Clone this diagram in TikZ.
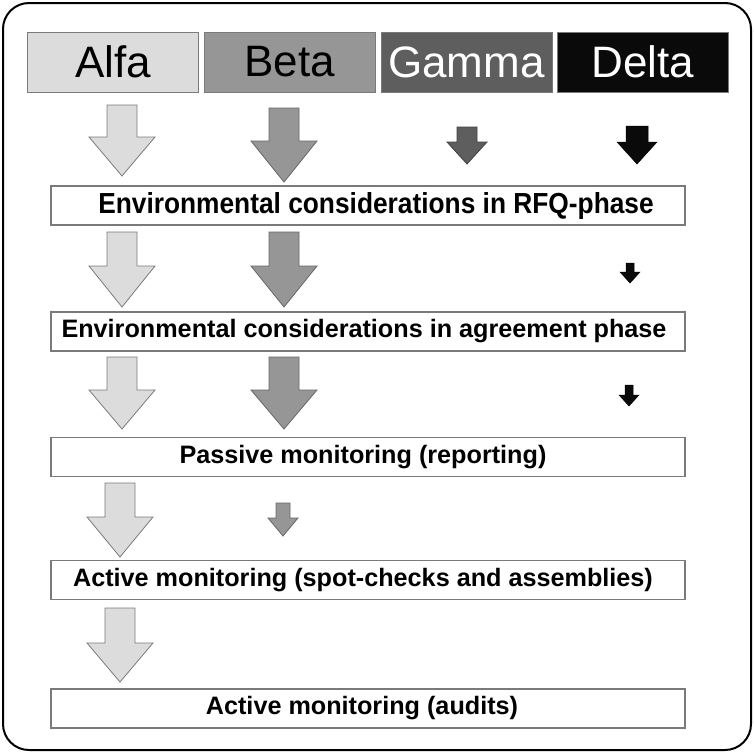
\documentclass[tikz,border=0pt]{standalone}
\usepackage{fontspec}
\setmainfont{Liberation Sans}
\usepackage{tikz}
\usetikzlibrary{positioning}

\definecolor{alfagray}{HTML}{DCDCDC}
\definecolor{betagray}{HTML}{969696}
\definecolor{gammagray}{HTML}{5E5E5E}
\definecolor{deltablack}{HTML}{0A0A0A}
\definecolor{edgegray}{HTML}{7A7A7A}

\tikzset{
  header/.style={draw=edgegray, line width=0.8pt, minimum width=171, minimum height=60,
                 inner sep=0pt, font=\fontsize{44}{48}\selectfont},
  stage/.style={draw=edgegray, line width=1.2pt, fill=white, minimum width=634, minimum height=39,
                inner sep=0pt, font=\fontsize{25.2}{28}\selectfont\bfseries},
  alfaarrow/.style={fill=alfagray, draw=edgegray, line width=0.8pt, line join=miter},
  betaarrow/.style={fill=betagray, draw=black!60, line width=0.8pt, line join=miter},
  gammaarrow/.style={fill=gammagray, draw=black!75, line width=0.8pt, line join=miter},
  deltaarrow/.style={fill=deltablack, draw=black, line width=0.5pt, line join=miter}
}

% block arrow: style, x, top, head base, tip, shaft half width, head half width
\newcommand{\dnarrow}[7]{%
  \filldraw[#1] (#2-#6,#3) -- (#2+#6,#3) -- (#2+#6,#4) -- (#2+#7,#4) -- (#2,#5)
    -- (#2-#7,#4) -- (#2-#6,#4) -- cycle;}

\begin{document}
\begin{tikzpicture}[x=1pt, y=-1pt]
  \useasboundingbox (0,0) rectangle (754,753);

  % Outer frame
  \draw[line width=2pt, rounded corners=26pt] (3,3) rectangle (751,750);

  % Supplier headers
  \node[header, fill=alfagray] (alfa) at (113,62) {Alfa};
  \node[header, fill=betagray] (beta) at (289.5,62) {Beta};
  \node[header, fill=gammagray, text=white] (gamma) at (466.5,62) {Gamma};
  \node[header, fill=deltablack, text=white] (delta) at (643,62) {Delta};

  % Stages
  \node[stage, font=\fontsize{29}{32}\selectfont\bfseries] (rfq) at (368,205.5)
    {\hspace*{16pt}\scalebox{0.907}[1]{Environmental considerations in RFQ-phase}};
  \node[stage] (agree) at (368,331.5) {\hspace*{-8pt}Environmental considerations in agreement phase};
  \node[stage] (passive) at (368,457) {\hspace*{-10pt}Passive monitoring (reporting)};
  \node[stage] (spot) at (368,580) {\hspace*{-10pt}Active monitoring (spot-checks and assemblies)};
  \node[stage] (audit) at (368,708.5) {\hspace*{-12pt}Active monitoring (audits)};

  % Row 1 arrows
  \dnarrow{alfaarrow}{122}{105}{137}{176}{15}{33}
  \dnarrow{betaarrow}{284}{108}{141}{182}{15}{33}
  \dnarrow{gammaarrow}{467}{127}{142}{164}{10}{20}
  \dnarrow{deltaarrow}{637}{126}{142}{164}{11}{20}

  % Row 2 arrows
  \dnarrow{alfaarrow}{122}{232}{266}{307}{15}{33}
  \dnarrow{betaarrow}{284}{232}{266}{307}{15}{33}
  \dnarrow{deltaarrow}{630}{263}{272}{283}{4}{10}

  % Row 3 arrows
  \dnarrow{alfaarrow}{122}{357}{390}{429}{15}{33}
  \dnarrow{betaarrow}{284}{357}{390}{429}{15}{33}
  \dnarrow{deltaarrow}{629}{385}{395}{406}{4}{10}

  % Row 4 arrows
  \dnarrow{alfaarrow}{120}{483}{517}{557}{15}{33}
  \dnarrow{betaarrow}{283}{503}{518}{536}{7}{15}

  % Row 5 arrow
  \dnarrow{alfaarrow}{120}{608}{643}{682}{15}{33}
\end{tikzpicture}
\end{document}
